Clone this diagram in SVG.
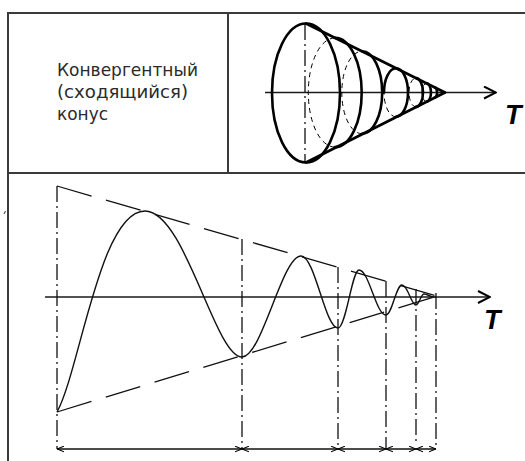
<svg xmlns="http://www.w3.org/2000/svg" width="525" height="461" viewBox="0 0 525 461">
<style>
.frame{stroke:#3a3a3a;stroke-width:2;fill:none}
.label{font-family:"DejaVu Sans","Liberation Sans",sans-serif;font-size:17px;fill:#2a2a2a}
.tlabel{font-family:"Liberation Sans",Arial,sans-serif;font-size:27px;font-weight:bold;font-style:italic;fill:#000}
.thick{stroke:#000;stroke-width:2.6;fill:none;stroke-linecap:round}
.hidden{stroke:#000;stroke-width:1;fill:none;stroke-dasharray:5 4}
.axis{stroke:#1a1a1a;stroke-width:1.6;fill:none}
.dashdot{stroke:#111;stroke-width:1.3;fill:none;stroke-dasharray:16 4 2 4}
.env{stroke:#111;stroke-width:1.3;fill:none;stroke-dasharray:36 15}
.wave{stroke:#111;stroke-width:1.4;fill:none}
.dim{stroke:#111;stroke-width:1.5;fill:none}
</style>
<defs>
<marker id="axArrow" viewBox="0 0 14 14" refX="13" refY="7" markerWidth="14" markerHeight="14" markerUnits="userSpaceOnUse" orient="auto">
<path d="M1,1 L13,7 L1,13" fill="none" stroke="#000" stroke-width="2"/>
</marker>
<marker id="dimArrow" viewBox="0 0 10 10" refX="10" refY="5" markerWidth="7" markerHeight="7" markerUnits="userSpaceOnUse" orient="auto-start-reverse">
<path d="M0,1 L10,5 L0,9" fill="none" stroke="#000" stroke-width="1.6"/>
</marker>
</defs>

<g id="table">
<line class="frame" x1="8" y1="13" x2="525" y2="13"/>
<line class="frame" x1="8" y1="12" x2="8" y2="461"/>
<line class="frame" x1="228" y1="13" x2="228" y2="173"/>
<line class="frame" x1="8" y1="173" x2="525" y2="173"/>
<line x1="4" y1="214" x2="5.5" y2="211" stroke="#333" stroke-width="1"/>
</g>

<g id="label-cell">
<text class="label" x="57" y="76" textLength="141" lengthAdjust="spacingAndGlyphs">Конвергентный</text>
<text class="label" x="57" y="98" textLength="131" lengthAdjust="spacingAndGlyphs">(сходящийся)</text>
<text class="label" x="57" y="120" textLength="51" lengthAdjust="spacingAndGlyphs">конус</text>
</g>

<g id="cone">
<line class="axis" x1="265" y1="92.5" x2="496" y2="92.5" marker-end="url(#axArrow)"/>
<line class="dashdot" x1="305" y1="24" x2="305" y2="163"/>
<ellipse class="thick" cx="306" cy="93" rx="34" ry="69.5"/>
<line class="thick" x1="306" y1="23.5" x2="445" y2="92.5"/>
<line class="thick" x1="306" y1="162.5" x2="445" y2="92.5"/>
<!-- inner sections: visible right halves -->
<path class="thick" d="M335,37.9 A26.7,54.6 0 0 1 335,147.1"/>
<path class="thick" d="M362,51.3 A20.2,41.2 0 0 1 362,133.7"/>
<path class="thick" d="M396,68.2 A12,24.3 0 0 1 396,116.8"/>
<path class="thick" d="M396,68.2 A12,24.3 0 0 0 384,92.5"/>
<path class="thick" d="M416,78.1 A7,14.4 0 0 1 416,106.9"/>
<path class="thick" d="M426.5,83.3 A4.5,9.2 0 0 1 426.5,101.7"/>
<path class="thick" d="M434.5,87.3 A2.6,5.2 0 0 1 434.5,97.7"/>
<!-- hidden halves -->
<path class="hidden" d="M335,147.1 A26.7,54.6 0 0 1 335,37.9"/>
<path class="hidden" d="M362,133.7 A20.2,41.2 0 0 1 362,51.3"/>
<path class="hidden" d="M396,116.8 A12,24.3 0 0 1 384,92.5"/>
<path class="hidden" d="M416,106.9 A7,14.4 0 0 1 416,78.1"/>
<path class="hidden" d="M426.5,101.7 A4.5,9.2 0 0 1 426.5,83.3"/>
<text class="tlabel" x="505" y="124">T</text>
</g>

<g id="oscillation">
<line class="axis" x1="45" y1="297" x2="490" y2="297" marker-end="url(#axArrow)"/>
<line class="env" x1="57" y1="186" x2="437" y2="296"/>
<line class="env" x1="57" y1="412" x2="437" y2="296"/>
<path class="wave" d="M57,412 C80,370 100,211 145,211 C185,211 215,357 242,357 C262,357 282,256 301,256 C315,256 325,328 338,328 C346,328 352,270 359,270 C369,270 376,315 386,315 C392,315 396,285 402,285 C408,285 411,305 416,305 C419,305 421,294 424,294 C428,294 431,298 436,297"/>
<text class="tlabel" x="484" y="329">T</text>
</g>

<g id="connectors">
<line class="dashdot" x1="57" y1="186" x2="57" y2="449"/>
<line class="dashdot" x1="242" y1="239" x2="242" y2="449"/>
<line class="dashdot" x1="338" y1="267" x2="338" y2="449"/>
<line class="dashdot" x1="386" y1="281" x2="386" y2="449"/>
<line class="dashdot" x1="416" y1="289" x2="416" y2="445"/>
<line class="dashdot" x1="436" y1="293" x2="436" y2="445"/>
<line class="dim" x1="57" y1="449" x2="242" y2="449" marker-start="url(#dimArrow)" marker-end="url(#dimArrow)"/>
<line class="dim" x1="242" y1="449" x2="338" y2="449" marker-start="url(#dimArrow)" marker-end="url(#dimArrow)"/>
<line class="dim" x1="338" y1="449" x2="386" y2="449" marker-start="url(#dimArrow)" marker-end="url(#dimArrow)"/>
<line class="dim" x1="386" y1="449" x2="416" y2="449" marker-start="url(#dimArrow)" marker-end="url(#dimArrow)"/>
<line class="dim" x1="416" y1="449" x2="436" y2="449" marker-start="url(#dimArrow)" marker-end="url(#dimArrow)"/>
</g>
</svg>
